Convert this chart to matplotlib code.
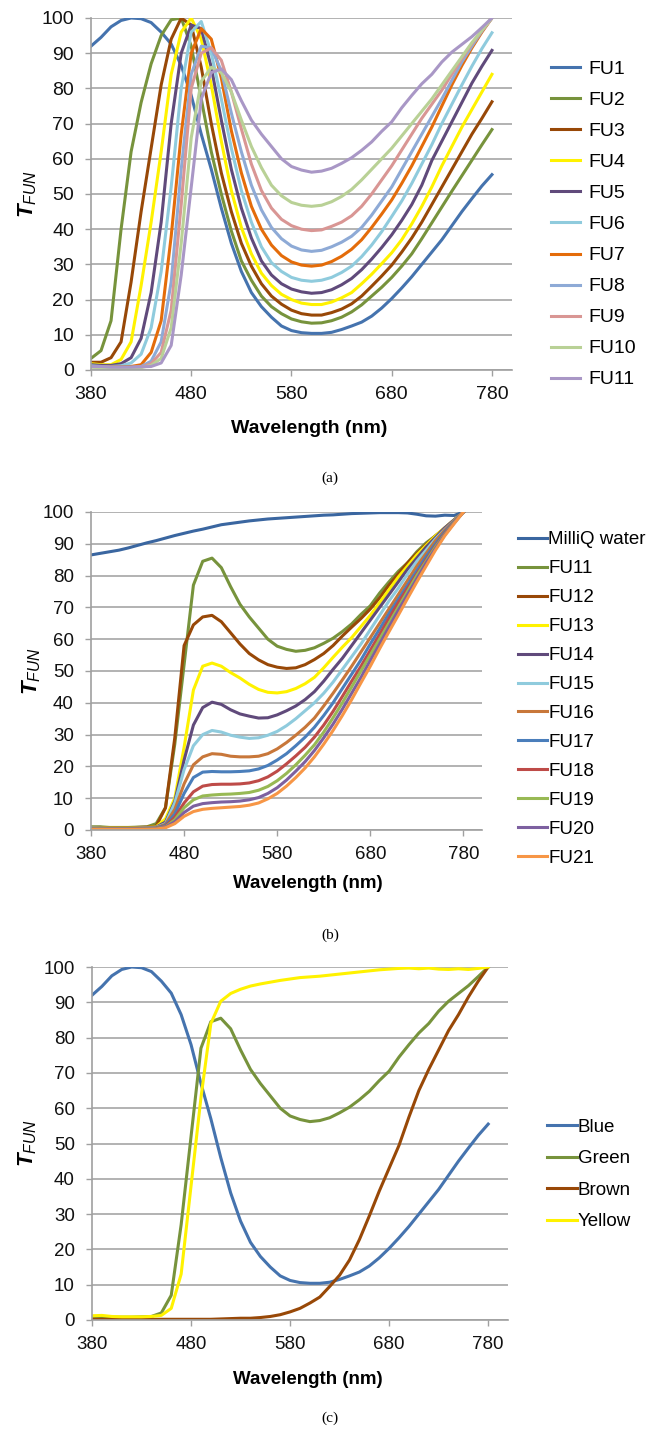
import matplotlib
matplotlib.use('Agg')
import matplotlib.pyplot as plt
import numpy as np

plt.rcParams['font.family'] = 'Liberation Sans'
plt.rcParams['mathtext.fontset'] = 'custom'
plt.rcParams['mathtext.it'] = 'Liberation Sans:italic:bold'
plt.rcParams['mathtext.sf'] = 'Liberation Sans:italic'

# comprimento de onda (nm), passo de 10 nm
wl = np.arange(380, 790, 10)

# ---------------- dados do painel (a) ----------------
fu1 = [92, 94.5, 97.5, 99.3, 100, 99.8, 98.7, 96, 92.6, 86.5,
       78, 67, 57, 46, 36, 28, 22, 18, 15, 12.5,
       11.2, 10.6, 10.4, 10.4, 10.7, 11.5, 12.5, 13.6, 15.3, 17.6,
       20.3, 23.3, 26.5, 30, 33.5, 37, 41, 45, 48.7, 52.3, 55.5]
fu2 = [3.3, 5.5, 14, 40, 62, 76, 87, 95, 99.5, 100,
       92, 77, 62, 50, 39.5, 31, 25.5, 21, 18, 16,
       14.5, 13.7, 13.3, 13.4, 14, 15, 16.5, 18.5, 21, 23.5,
       26.3, 29.5, 33, 37.3, 41.8, 46.3, 50.8, 55.2, 59.6, 64, 68.3]
fu3 = [2.2, 2.2, 3.5, 8, 25, 45, 63, 81, 94, 100,
       98, 86, 70, 56, 45, 36, 29.5, 24.5, 21, 18.7,
       17, 16, 15.6, 15.6, 16.3, 17.3, 18.8, 21, 23.8, 26.7,
       29.8, 33.5, 37.5, 42, 47, 52, 57, 62, 67, 71.5, 76.2]
fu4 = [1.8, 1.5, 1.5, 3, 8, 24, 42, 62, 84, 96,
       100, 94, 81, 65, 51, 40.5, 33, 27.5, 24, 21.5,
       20, 19, 18.6, 18.6, 19.3, 20.5, 22, 24.5, 27.2, 30.2,
       33.3, 37, 41.5, 46.5, 52, 58, 63.5, 69, 74, 79, 84]
fu5 = [1.5, 1.3, 1.3, 1.8, 3.5, 9, 22, 42, 70, 90,
       98, 97, 86, 71, 57, 46, 37.5, 31, 27, 24.5,
       23, 22.2, 21.8, 22, 22.8, 24.2, 26, 28.5, 31.5, 34.8,
       38.4, 42.5, 47, 52.5, 59.5, 65, 70.5, 76, 81.5, 86.3, 90.8]
fu6 = [1.2, 1.0, 1.0, 1.2, 2, 4.5, 12, 28, 52, 80,
       96, 99, 90, 77, 63, 51, 42, 35, 30.5, 28,
       26.3, 25.5, 25.2, 25.5, 26.3, 27.7, 29.5, 32.2, 35.5, 39.3,
       43.6, 48, 53, 58.5, 64, 70, 75.5, 81, 86.3, 91.3, 95.8]
fu7 = [1.0, 1.0, 0.9, 0.9, 1.0, 1.5, 5, 14, 38, 67,
       90, 97, 94, 83, 68, 56, 46.5, 40, 35.5, 32.5,
       30.7, 29.8, 29.5, 29.8, 30.8, 32.3, 34.3, 37, 40.5, 44.3,
       48.3, 53, 58, 63.5, 69, 75, 81, 86.5, 91.5, 96, 100]
fu8 = [1.0, 0.9, 0.8, 0.8, 0.8, 1.0, 2.5, 8, 25, 57,
       84, 92, 91.5, 85, 73, 62, 52.5, 45.5, 40.5, 37.3,
       35.2, 34.1, 33.7, 34, 35, 36.3, 38, 40.5, 44, 48,
       52, 57, 62, 67, 72, 77, 82.3, 87.5, 92, 96.3, 100]
fu9 = [0.9, 0.8, 0.7, 0.7, 0.7, 0.8, 1.8, 5, 17, 47,
       80, 90, 91.5, 88, 79, 68.5, 58.5, 51, 46, 42.8,
       41, 40, 39.6, 39.8, 40.8, 42, 43.8, 46.5, 50, 54,
       58, 62.5, 67, 71.5, 75.5, 79.5, 84, 88.5, 92.7, 96.5, 100]
fu10 = [0.8, 0.7, 0.6, 0.6, 0.6, 0.7, 1.3, 3.3, 12, 36,
        66, 82, 86, 84.5, 79, 71, 63.5, 57.5, 52.5, 49.5,
        47.6, 46.8, 46.5, 46.8, 47.8, 49.3, 51.3, 54, 57, 60,
        63, 66.5, 70, 73.5, 77, 81, 85, 89, 93, 96.5, 100]
fu11 = [1.0, 1.0, 0.8, 0.8, 0.8, 0.9, 1.0, 2.0, 7, 27,
        52, 77, 84.5, 85.5, 82.5, 76.5, 71, 67, 63.5, 60,
        57.8, 56.8, 56.2, 56.5, 57.3, 58.7, 60.3, 62.4, 64.8, 67.8,
        70.5, 74.5, 78, 81.3, 84, 87.5, 90.3, 92.5, 94.7, 97.3, 100]

# ---------------- dados do painel (b) ----------------
milliq = [86.5, 87, 87.5, 88, 88.7, 89.5, 90.3, 91, 91.8, 92.6,
          93.3, 94, 94.6, 95.3, 96, 96.4, 96.8, 97.2, 97.5, 97.8,
          98, 98.2, 98.4, 98.6, 98.8, 99, 99.1, 99.3, 99.5, 99.6,
          99.7, 99.8, 99.8, 99.8, 99.7, 99.3, 98.8, 98.7, 99, 98.9, 100]
fu12 = [0.8, 0.8, 0.7, 0.7, 0.7, 0.8, 0.9, 1.2, 7, 29,
        58, 64.5, 67, 67.5, 65.5, 62, 58.5, 55.5, 53.5, 52,
        51.2, 50.8, 51, 52, 53.6, 55.5, 58, 61, 63.8, 66.5,
        69.5, 73, 77, 80.5, 84, 87, 89.8, 92.5, 95, 97.5, 100]
fu13 = [0.7, 0.7, 0.6, 0.6, 0.6, 0.7, 0.8, 1.0, 3.5, 10,
        26, 44, 51.5, 52.5, 51.5, 49.5, 47.8, 45.8, 44.2, 43.3,
        43.1, 43.5, 44.5, 46, 48, 51, 54.3, 57.5, 60.5, 64,
        67.5, 71.5, 75.5, 79.5, 83, 86.5, 89.5, 92.5, 95, 97.5, 100]
fu14 = [0.6, 0.6, 0.5, 0.5, 0.5, 0.6, 0.7, 0.9, 2.5, 9,
        22, 33, 38.5, 40.2, 39.5, 37.8, 36.5, 35.8, 35.2, 35.3,
        36.2, 37.5, 39, 41, 43.5, 46.8, 50.5, 54, 58, 62,
        66, 70, 74, 78, 82, 85.5, 89, 92, 95, 97.5, 100]
fu15 = [0.6, 0.5, 0.5, 0.5, 0.5, 0.5, 0.6, 0.8, 2, 8.5,
        19, 26.5, 30, 31.3, 30.8, 29.8, 29.2, 28.8, 29, 29.8,
        31, 32.8, 35, 37.5, 40, 43, 46.5, 50.5, 54.5, 58.5,
        63, 67.5, 72, 76, 80.5, 84.5, 88, 91.5, 94.5, 97.3, 100]
fu16 = [0.5, 0.5, 0.4, 0.4, 0.4, 0.5, 0.6, 0.7, 1.8, 6.5,
        14.5, 20.5, 23, 24, 23.8, 23.2, 23, 23, 23.2, 24,
        25.5, 27.5, 29.8, 32.3, 35.2, 39, 43, 47.2, 51.5, 56,
        60.5, 65, 69.5, 74, 78.5, 83, 87, 91, 94.3, 97.2, 100]
fu17 = [0.5, 0.5, 0.4, 0.4, 0.4, 0.4, 0.5, 0.6, 1.5, 5,
        11.5, 16.5, 18.2, 18.4, 18.3, 18.3, 18.4, 18.6, 19.2, 20.3,
        22, 24, 26.5, 29.2, 32.3, 36, 40, 44.5, 49, 53.5,
        58.5, 63.2, 68, 72.5, 77, 81.5, 86, 90, 93.8, 97, 100]
fu18 = [0.4, 0.4, 0.3, 0.3, 0.3, 0.4, 0.4, 0.5, 1.2, 4,
        8.5, 12, 13.8, 14.3, 14.4, 14.4, 14.5, 14.8, 15.5, 16.7,
        18.5, 20.8, 23.3, 26, 29.2, 33, 37.3, 42, 46.8, 51.5,
        56.5, 61.5, 66.5, 71.5, 76, 80.5, 85, 89.3, 93.3, 96.8, 100]
fu19 = [0.4, 0.4, 0.3, 0.3, 0.3, 0.3, 0.4, 0.5, 1, 3.2,
        7, 9.5, 10.7, 11, 11.2, 11.3, 11.5, 11.8, 12.5, 13.7,
        15.5, 17.8, 20.5, 23.5, 26.8, 30.8, 35.3, 40, 45, 50,
        55, 60, 65, 70, 75, 80, 84.5, 89, 93, 96.7, 100]
fu20 = [0.3, 0.3, 0.3, 0.3, 0.3, 0.3, 0.3, 0.4, 0.9, 2.6,
        5.5, 7.5, 8.3, 8.6, 8.8, 8.9, 9.1, 9.5, 10.2, 11.5,
        13.3, 15.7, 18.5, 21.5, 25, 29, 33.3, 38, 43, 48,
        53.3, 58.5, 63.8, 69, 74, 79, 84, 88.5, 92.8, 96.5, 100]
fu21 = [0.2, 0.2, 0.2, 0.2, 0.2, 0.2, 0.2, 0.3, 0.7, 2,
        4.3, 5.8, 6.5, 6.8, 7, 7.2, 7.4, 7.8, 8.5, 9.8,
        11.5, 13.8, 16.5, 19.5, 23, 27, 31.3, 36, 41, 46.3,
        51.5, 57, 62.3, 67.5, 72.8, 78, 83, 88, 92.5, 96.3, 100]

# ---------------- dados do painel (c) ----------------
brown = [0.2, 0.2, 0.2, 0.2, 0.2, 0.2, 0.2, 0.2, 0.2, 0.2,
         0.2, 0.2, 0.2, 0.3, 0.4, 0.5, 0.5, 0.7, 1.0, 1.5,
         2.3, 3.3, 4.8, 6.5, 9.5, 12.7, 17, 22.8, 29.5, 36.5,
         43, 49.5, 57.5, 65, 71, 76.5, 82, 86.5, 91.5, 96, 100]
yellow = [1.2, 1.3, 1.0, 0.9, 0.9, 0.9, 1.0, 1.3, 3.3, 13,
          38, 63, 84, 90.3, 92.5, 93.7, 94.6, 95.2, 95.7, 96.2,
          96.6, 97, 97.2, 97.4, 97.7, 98, 98.3, 98.6, 98.9, 99.2,
          99.4, 99.6, 99.7, 99.5, 99.7, 99.4, 99.3, 99.5, 99.3, 99.6, 100]

series_a = [fu1, fu2, fu3, fu4, fu5, fu6, fu7, fu8, fu9, fu10, fu11]
labels_a = ['FU1', 'FU2', 'FU3', 'FU4', 'FU5', 'FU6', 'FU7', 'FU8', 'FU9', 'FU10', 'FU11']
colors_a = ['#4573AE', '#77933C', '#984807', '#FFF200', '#604A7B', '#8FCBDD',
            '#E46C0A', '#8EAAD6', '#D99694', '#B9D196', '#A997C6']

series_b = [milliq, fu11, fu12, fu13, fu14, fu15, fu16, fu17, fu18, fu19, fu20, fu21]
labels_b = ['MilliQ water', 'FU11', 'FU12', 'FU13', 'FU14', 'FU15', 'FU16',
            'FU17', 'FU18', 'FU19', 'FU20', 'FU21']
colors_b = ['#3A66A0', '#77933C', '#984807', '#FFF200', '#604A7B', '#8FCBDD',
            '#C8773A', '#4A7EBB', '#BE4B48', '#98B954', '#7D60A0', '#F79646']

series_c = [fu1, fu11, brown, yellow]
labels_c = ['Blue', 'Green', 'Brown', 'Yellow']
colors_c = ['#4573AE', '#77933C', '#984807', '#FFF200']

W, H = 660, 1438
fig = plt.figure(figsize=(W / 100, H / 100), dpi=100)


def eixo(rect):
    l, t, r, b = rect
    ax = fig.add_axes([l / W, 1 - b / H, (r - l) / W, (b - t) / H])
    return ax


def estilo(ax, fs):
    ax.set_xlim(380, 800)
    ax.set_ylim(0, 100)
    ax.set_xticks([380, 480, 580, 680, 780])
    ax.set_yticks(range(0, 101, 10))
    ax.grid(axis='y', color='#A6A6A6', lw=1.2)
    ax.set_axisbelow(True)
    for s in ['top', 'right']:
        ax.spines[s].set_visible(False)
    for s in ['left', 'bottom']:
        ax.spines[s].set_color('#A0A0A0')
        ax.spines[s].set_linewidth(1.2)
    ax.tick_params(axis='both', color='#A0A0A0', length=4.3, width=1.0,
                   labelsize=fs, labelcolor='#111111')
    ax.tick_params(axis='y', pad=8)
    ax.tick_params(axis='x', pad=7)


def desenha(ax, series, labels, colors, fs, leg_x, leg_y, hl, hp, ls):
    for y, lab, c in zip(series, labels, colors):
        ax.plot(wl, y, color=c, lw=2.2, label=lab, solid_joinstyle='round')
    ax.legend(loc='center left', bbox_to_anchor=(leg_x / W, 1 - leg_y / H),
              bbox_transform=fig.transFigure, frameon=False, borderpad=0,
              borderaxespad=0, handlelength=hl, handletextpad=hp,
              labelspacing=ls, fontsize=fs)


ylab = r'$\mathit{T}_{\mathsf{FUN}}$'

# (a)
ax_a = eixo((91, 18, 512, 370))
estilo(ax_a, 14)
desenha(ax_a, series_a, labels_a, colors_a, 14, 551, 224.5, 1.5, 0.4, 0.69)
fig.text(28 / W, 1 - 194 / H, ylab, rotation=90, fontsize=16, ha='center', va='center')
fig.text(309 / W, 1 - 428 / H, 'Wavelength (nm)', fontsize=14, weight='bold',
         ha='center', va='center')
fig.text(0.5, 1 - 478 / H, '(a)', family='Liberation Serif', fontsize=11,
         ha='center', va='center')

# (b)
ax_b = eixo((91, 512, 482, 830))
estilo(ax_b, 13.5)
desenha(ax_b, series_b, labels_b, colors_b, 13.5, 518, 699, 1.55, 0.05, 0.63)
fig.text(32 / W, 1 - 671 / H, ylab, rotation=90, fontsize=16, ha='center', va='center')
fig.text(308 / W, 1 - 883 / H, 'Wavelength (nm)', fontsize=13.5, weight='bold',
         ha='center', va='center')
fig.text(0.5, 1 - 935 / H, '(b)', family='Liberation Serif', fontsize=11,
         ha='center', va='center')

# (c)
ax_c = eixo((92, 967, 508, 1320))
estilo(ax_c, 13.5)
desenha(ax_c, series_c, labels_c, colors_c, 13.5, 547, 1174.5, 1.6, 0.05, 0.76)
fig.text(28 / W, 1 - 1143 / H, ylab, rotation=90, fontsize=16, ha='center', va='center')
fig.text(308 / W, 1 - 1380 / H, 'Wavelength (nm)', fontsize=13.5, weight='bold',
         ha='center', va='center')
fig.text(0.5, 1 - 1418 / H, '(c)', family='Liberation Serif', fontsize=11,
         ha='center', va='center')

fig.savefig('out.png', dpi=100)
